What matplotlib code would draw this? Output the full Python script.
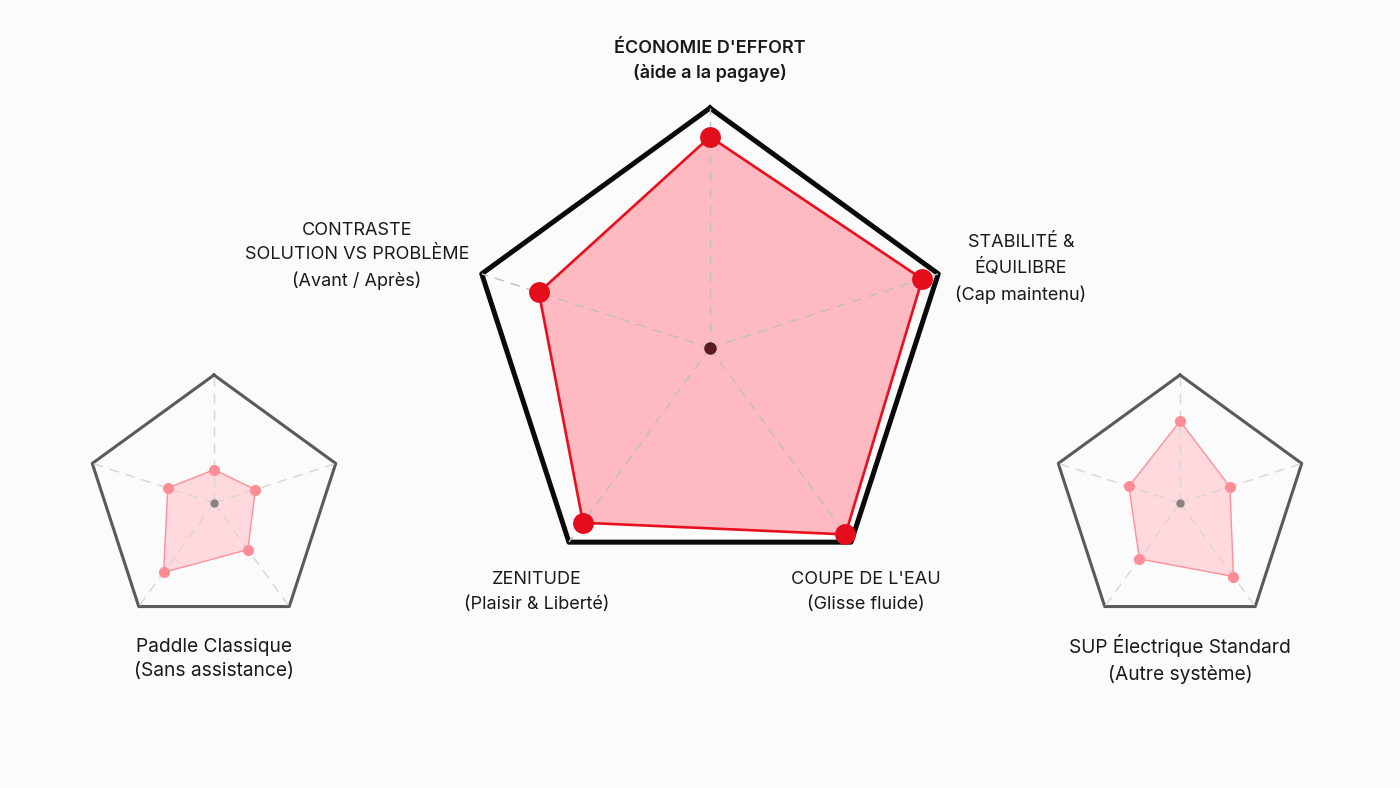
import numpy as np
import matplotlib
matplotlib.use("Agg")
import matplotlib.pyplot as plt

plt.rcParams['font.family'] = ['Inter', 'DejaVu Sans']

# ---- data ----
axes_labels = [
    "ÉCONOMIE D'EFFORT\n(àide a la pagaye)",
    "STABILITÉ &\nÉQUILIBRE\n(Cap maintenu)",
    "COUPE DE L'EAU\n(Glisse fluide)",
    "ZENITUDE\n(Plaisir & Liberté)",
    "CONTRASTE\nSOLUTION VS PROBLÈME\n(Avant / Après)",
]
main_values = [8.8, 9.3, 9.6, 9.0, 7.5]
classic_values = [2.6, 3.4, 4.5, 6.7, 3.8]
standard_values = [6.4, 4.1, 7.1, 5.4, 4.2]
classic_title = "Paddle Classique\n(Sans assistance)"
standard_title = "SUP Électrique Standard\n(Autre système)"
max_value = 10.0

W, H = 1400, 788
fig = plt.figure(figsize=(W / 100, H / 100), dpi=100)
fig.patch.set_facecolor('#fbfbfb')

n = len(main_values)
angles = np.deg2rad(np.arange(n) * 360.0 / n)


def make_ax(cx, cy, R):
    ax = fig.add_axes([(cx - R) / W, (H - cy - R) / H, 2 * R / W, 2 * R / H],
                      projection='polar')
    ax.set_theta_zero_location('N')
    ax.set_theta_direction(-1)
    ax.set_ylim(0, max_value)
    ax.set_xticks([])
    ax.set_yticks([])
    ax.grid(False)
    ax.spines['polar'].set_visible(False)
    ax.patch.set_alpha(0)
    return ax


def draw_radar(ax, values, outline_color, outline_lw, spoke_color, fill_color,
               line_color, line_lw, marker_color, ms, center_color, center_ms):
    a_closed = np.append(angles, angles[0])
    # spokes
    for a in angles:
        ax.plot([a, a], [0, max_value], color=spoke_color, lw=1.0,
                dashes=(7, 5), zorder=3)
    # outline
    ax.plot(a_closed, [max_value] * (n + 1), color=outline_color,
            lw=outline_lw, solid_joinstyle='round', zorder=2, clip_on=False)
    v_closed = np.append(values, values[0])
    ax.fill(a_closed, v_closed, color=fill_color, zorder=1, lw=0)
    ax.plot(a_closed, v_closed, color=line_color, lw=line_lw, zorder=4,
            clip_on=False)
    ax.plot(angles, values, 'o', color=marker_color, ms=ms, mec='none',
            zorder=5, clip_on=False)
    ax.plot([0], [0], 'o', color=center_color, ms=center_ms, mec='none',
            zorder=6)


# main chart
ax_main = make_ax(710, 348, 240)
draw_radar(ax_main, main_values, '#0a0a0a', 3.6, '#bdbdbd', '#ffbac1',
           '#e8101c', 1.9, '#e30d1c', 15, '#5a1a1e', 9)

# small charts
ax_l = make_ax(214, 503, 128)
draw_radar(ax_l, classic_values, '#5a5a5a', 2.2, '#d6d6d6', '#ffd9dd',
           '#ff8f98', 1.0, '#ff8c96', 8, '#8a8080', 6)

ax_r = make_ax(1180, 503, 128)
draw_radar(ax_r, standard_values, '#5a5a5a', 2.2, '#d6d6d6', '#ffd9dd',
           '#ff8f98', 1.0, '#ff8c96', 8, '#8a8080', 6)

# category labels
label_pos = [(710, 61), (1021, 269), (866, 592), (537, 592), (357, 256)]
for i, (lab, (x, y)) in enumerate(zip(axes_labels, label_pos)):
    fig.text(x / W, 1 - y / H, lab, ha='center', va='center', fontsize=13,
             color='#1a1a1a', linespacing=1.55,
             fontweight='semibold' if i == 0 else 'normal')

fig.text(214 / W, 1 - 659 / H, classic_title, ha='center', va='center',
         fontsize=13.8, color='#1a1a1a', linespacing=1.48)
fig.text(1180 / W, 1 - 659 / H, standard_title, ha='center', va='center',
         fontsize=13.8, color='#1a1a1a', linespacing=1.48)

fig.savefig('out.png', dpi=100, facecolor=fig.get_facecolor())
